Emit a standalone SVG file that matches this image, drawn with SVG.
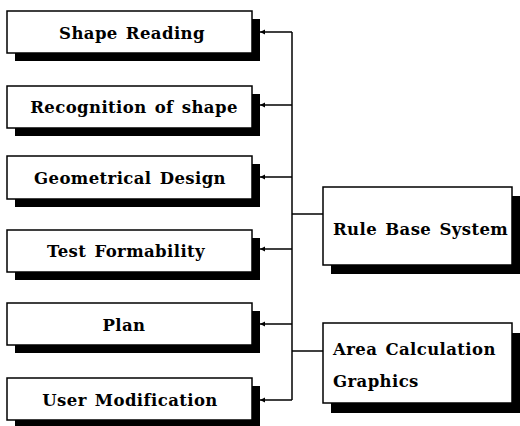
<svg xmlns="http://www.w3.org/2000/svg" width="520" height="426" viewBox="0 0 520 426">
  <style>
    .shadow { fill: #000; }
    .box { fill: #fff; stroke: #000; stroke-width: 1.5; }
    .label { font-family: "DejaVu Serif", "Liberation Serif", serif; font-weight: bold; font-size: 16.5px; letter-spacing: 0.4px; word-spacing: 2px; fill: #000; }
    .mid { text-anchor: middle; }
    .wire { fill: none; stroke: #000; stroke-width: 1.5; }
  </style>
  <defs>
    <marker id="tip" markerWidth="6" markerHeight="6" refX="5" refY="3" orient="auto" markerUnits="userSpaceOnUse">
      <path d="M0,0.5 L5,3 L0,5.5 Z" fill="#000"/>
    </marker>
  </defs>

  <rect width="520" height="426" fill="#fff"/>

  <!-- connectors: trunk, branches to the left boxes, and links to the right boxes -->
  <g id="connectors">
    <line class="wire" x1="292" y1="32" x2="292" y2="400"/>
    <line class="wire" x1="292" y1="32" x2="260" y2="32" marker-end="url(#tip)"/>
    <line class="wire" x1="292" y1="105" x2="260" y2="105" marker-end="url(#tip)"/>
    <line class="wire" x1="292" y1="177" x2="260" y2="177" marker-end="url(#tip)"/>
    <line class="wire" x1="292" y1="249" x2="260" y2="249" marker-end="url(#tip)"/>
    <line class="wire" x1="292" y1="324" x2="260" y2="324" marker-end="url(#tip)"/>
    <line class="wire" x1="292" y1="400" x2="260" y2="400" marker-end="url(#tip)"/>
    <line class="wire" x1="292" y1="214" x2="323" y2="214"/>
    <line class="wire" x1="292" y1="351" x2="323" y2="351"/>
  </g>

  <g id="shape-reading">
    <rect class="shadow" x="15" y="19" width="245" height="42"/>
    <rect class="box" x="7" y="11" width="245" height="42"/>
    <text class="label mid" x="132" y="39">Shape Reading</text>
  </g>
  <g id="recognition-of-shape">
    <rect class="shadow" x="15" y="94" width="245" height="42"/>
    <rect class="box" x="7" y="86" width="245" height="42"/>
    <text class="label mid" x="134" y="113">Recognition of shape</text>
  </g>
  <g id="geometrical-design">
    <rect class="shadow" x="15" y="164" width="245" height="43"/>
    <rect class="box" x="7" y="156" width="245" height="43"/>
    <text class="label mid" x="130" y="184">Geometrical Design</text>
  </g>
  <g id="test-formability">
    <rect class="shadow" x="15" y="238" width="245" height="42"/>
    <rect class="box" x="7" y="230" width="245" height="42"/>
    <text class="label mid" x="126" y="257">Test Formability</text>
  </g>
  <g id="plan">
    <rect class="shadow" x="15" y="311" width="245" height="42"/>
    <rect class="box" x="7" y="303" width="245" height="42"/>
    <text class="label mid" x="124" y="331">Plan</text>
  </g>
  <g id="user-modification">
    <rect class="shadow" x="15" y="386" width="245" height="42"/>
    <rect class="box" x="7" y="378" width="245" height="42"/>
    <text class="label mid" x="130" y="406">User Modification</text>
  </g>

  <g id="rule-base-system">
    <rect class="shadow" x="331" y="196" width="189" height="78"/>
    <rect class="box" x="323" y="187" width="189" height="78"/>
    <text class="label" x="333" y="235">Rule Base System</text>
  </g>
  <g id="area-calculation-graphics">
    <rect class="shadow" x="331" y="333" width="189" height="80"/>
    <rect class="box" x="323" y="323" width="189" height="80"/>
    <text class="label" x="333" y="355">Area Calculation</text>
    <text class="label" x="333" y="387">Graphics</text>
  </g>
</svg>
